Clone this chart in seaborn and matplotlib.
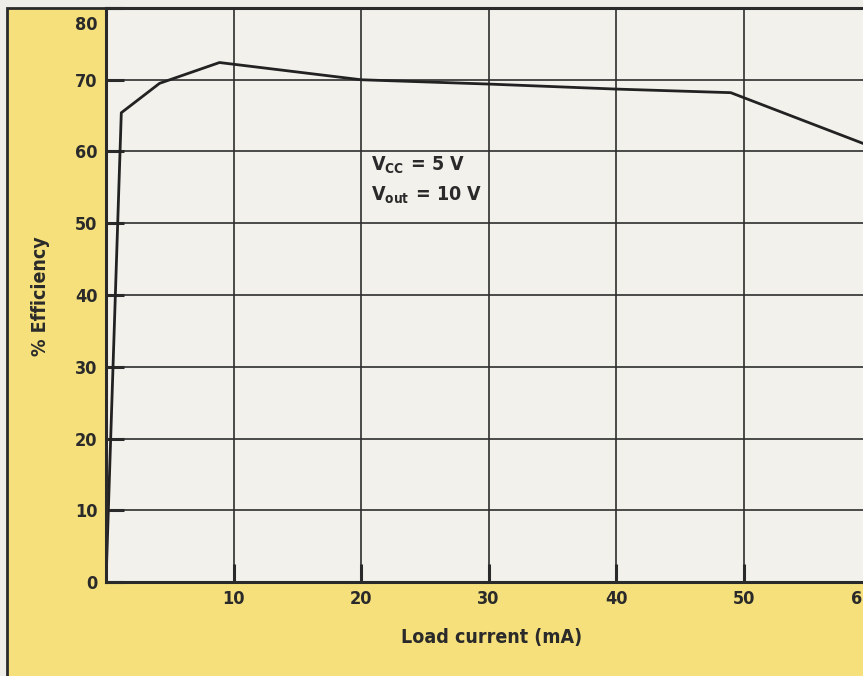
import matplotlib
matplotlib.use("Agg")
import matplotlib.pyplot as plt
import matplotlib.transforms as mtransforms
from matplotlib.patches import Rectangle
import seaborn as sns
import pandas as pd

# ---- data ----
load_current = [0.0, 1.2, 4.2, 8.9, 20.0, 30.0, 40.0, 49.0, 60.0]
efficiency = [0.0, 65.4, 69.5, 72.4, 70.0, 69.4, 68.7, 68.2, 60.7]
x_ticks = [10, 20, 30, 40, 50, 60]
y_ticks = [0, 10, 20, 30, 40, 50, 60, 70, 80]
x_label = "Load current (mA)"
y_label = "% Efficiency"
note_lines = [r"$\mathregular{V_{CC}\,=\,5\ V}$", r"$\mathregular{V_{out}\,=\,10\ V}$"]

df = pd.DataFrame({"current": load_current, "eff": efficiency})

sns.set_style("ticks")
FONT = ["Liberation Sans Narrow", "DejaVu Sans"]
plt.rcParams["font.family"] = FONT
plt.rcParams["font.weight"] = "bold"
plt.rcParams["font.stretch"] = "condensed"
plt.rcParams["mathtext.default"] = "regular"

W, H = 863, 676
fig = plt.figure(figsize=(W / 100, H / 100), dpi=100)
fig.patch.set_facecolor("#efede8")

# yellow panel with dark frame (left + top)
yellow = "#f5e07c"
panel = Rectangle((7 / W, -0.05), 1.1, (H - 8) / H + 0.05, transform=fig.transFigure,
                  facecolor=yellow, edgecolor="#2a2a2a", linewidth=2.0, zorder=0)
fig.add_artist(panel)

left_px, top_px, bottom_px = 106, 8, 582
ax = fig.add_axes([left_px / W, (H - bottom_px) / H, (W - left_px) / W, (bottom_px - top_px) / H])
ax.set_facecolor("#f3f1ec")

px_per_unit = 12.75
xmax = (W - left_px) / px_per_unit
sns.lineplot(data=df, x="current", y="eff", ax=ax, color="#222222", linewidth=2.0,
             estimator=None, sort=False)

ax.set_xlim(0, xmax)
ax.set_ylim(0, 80)
vis_x = [t for t in x_ticks if t < xmax]
ax.set_xticks(vis_x)
ax.set_yticks(y_ticks)
ax.set_xticklabels([str(t) for t in vis_x])
ax.set_yticklabels([str(t) for t in y_ticks])

ax.grid(True, color="#2e2e2e", linewidth=1.2)
ax.set_axisbelow(True)
ax.tick_params(axis="both", direction="in", length=13, width=2.2, color="#2a2a2a",
               labelsize=13, labelcolor="#2a2a2a", pad=6)
for lab in ax.get_xticklabels() + ax.get_yticklabels():
    lab.set_fontweight("bold")
    lab.set_fontstretch("condensed")

for side in ["left", "bottom", "top"]:
    ax.spines[side].set_color("#2a2a2a")
    ax.spines[side].set_linewidth(2.2)
ax.spines["right"].set_visible(False)

# push the "80" label down as in the reference
lab80 = ax.get_yticklabels()[-1]
lab80.set_transform(lab80.get_transform() + mtransforms.ScaledTranslation(0, -0.15, fig.dpi_scale_trans))

# partially visible last x tick label at the cut right edge (as in the reference)
last_x = x_ticks[-1]
ax.text(last_x, 0, str(last_x),
        transform=ax.get_xaxis_transform() + mtransforms.ScaledTranslation(-0.09, -0.08, fig.dpi_scale_trans),
        ha="center", va="top", fontsize=13, fontweight="bold", fontstretch="condensed",
        color="#2a2a2a", clip_on=False)

ax.set_xlabel(x_label, fontsize=14, fontweight="bold", fontstretch="condensed", color="#2a2a2a")
ax.set_ylabel(y_label, fontsize=14, fontweight="bold", fontstretch="condensed", color="#2a2a2a")
ax.yaxis.set_label_coords((41 - left_px) / (W - left_px), (bottom_px - 296) / (bottom_px - top_px))
ax.xaxis.set_label_coords((492 - left_px) / (W - left_px), -(637 - bottom_px) / (bottom_px - top_px))
ax.xaxis.label.set_va("center")
ax.yaxis.label.set_va("center")

ax.text(20.8, 58.1, note_lines[0], fontsize=14, fontweight="bold", fontstretch="condensed",
        color="#2a2a2a", va="center")
ax.text(20.8, 53.9, note_lines[1], fontsize=14, fontweight="bold", fontstretch="condensed",
        color="#2a2a2a", va="center")

fig.savefig("out.png", dpi=100, facecolor=fig.get_facecolor())
